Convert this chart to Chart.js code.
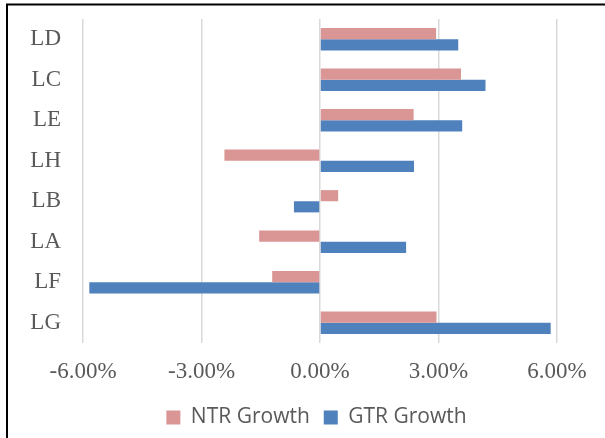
<!DOCTYPE html>
<html>
<head>
<meta charset="utf-8">
<script src="https://cdn.jsdelivr.net/npm/chart.js@4"></script>
<style>
html,body{margin:0;padding:0;background:#fff;}
#wrap{position:relative;width:605px;height:438px;}
</style>
</head>
<body>
<div id="wrap"><canvas id="c" width="605" height="438"></canvas></div>
<script>
const categories = ["LD", "LC", "LE", "LH", "LB", "LA", "LF", "LG"];
const ntrGrowth = [0.0294, 0.0357, 0.0237, -0.0242, 0.0046, -0.0154, -0.0121, 0.0295];
const gtrGrowth = [0.0350, 0.0419, 0.0360, 0.0238, -0.0066, 0.0218, -0.0584, 0.0584];
const seriesNames = ["NTR Growth", "GTR Growth"];
const axisMin = -0.06, axisMax = 0.06, axisStep = 0.03;

const framePlugin = {
  id: 'frame',
  beforeDraw(chart) {
    const lg = chart.legend;
    if (lg && !lg._shifted) {
      lg.left += 38; lg.right += 38; lg._shifted = true;
    }
  },
  afterDraw(chart) {
    const ctx = chart.ctx;
    ctx.save();
    ctx.strokeStyle = '#000';
    ctx.lineWidth = 2;
    ctx.beginPath();
    ctx.moveTo(6, 4.5);
    ctx.lineTo(605, 4.5);
    ctx.moveTo(7, 4);
    ctx.lineTo(7, 438);
    ctx.stroke();
    ctx.restore();
  }
};

new Chart(document.getElementById('c'), {
  type: 'bar',
  data: {
    labels: categories,
    datasets: [
      { label: seriesNames[0], data: ntrGrowth, backgroundColor: '#DA9694', borderWidth: 0 },
      { label: seriesNames[1], data: gtrGrowth, backgroundColor: '#4F81BD', borderWidth: 0 }
    ]
  },
  options: {
    indexAxis: 'y',
    responsive: false,
    animation: false,
    devicePixelRatio: 1,
    layout: { padding: { top: 19, right: 48, bottom: 0, left: 0 } },
    datasets: { bar: { categoryPercentage: 0.55, barPercentage: 1.0 } },
    scales: {
      x: {
        min: axisMin, max: axisMax,
        border: { display: false },
        grid: { color: '#D9D9D9', lineWidth: 1.5, drawTicks: false },
        ticks: {
          stepSize: axisStep,
          padding: 15,
          color: '#595959',
          font: { family: '"Liberation Serif", "Times New Roman", serif', size: 23 },
          callback: v => (v * 100).toFixed(2) + '%'
        },
        afterFit: s => { s.height = 50; s.paddingLeft = 0; s.paddingRight = 0; }
      },
      y: {
        border: { display: false },
        grid: { display: false, drawTicks: false },
        ticks: {
          color: '#595959',
          padding: 22,
          font: { family: '"Liberation Serif", "Times New Roman", serif', size: 23 }
        },
        afterFit: s => { s.width = 83; s.paddingTop = 0; s.paddingBottom = 0; }
      }
    },
    plugins: {
      legend: {
        position: 'bottom',
        labels: {
          boxWidth: 14, boxHeight: 14,
          padding: 14,
          color: '#595959',
          font: { family: '"Open Sans", sans-serif', size: 21 }
        }
      },
      tooltip: { enabled: false }
    }
  },
  plugins: [framePlugin]
});
</script>
</body>
</html>
